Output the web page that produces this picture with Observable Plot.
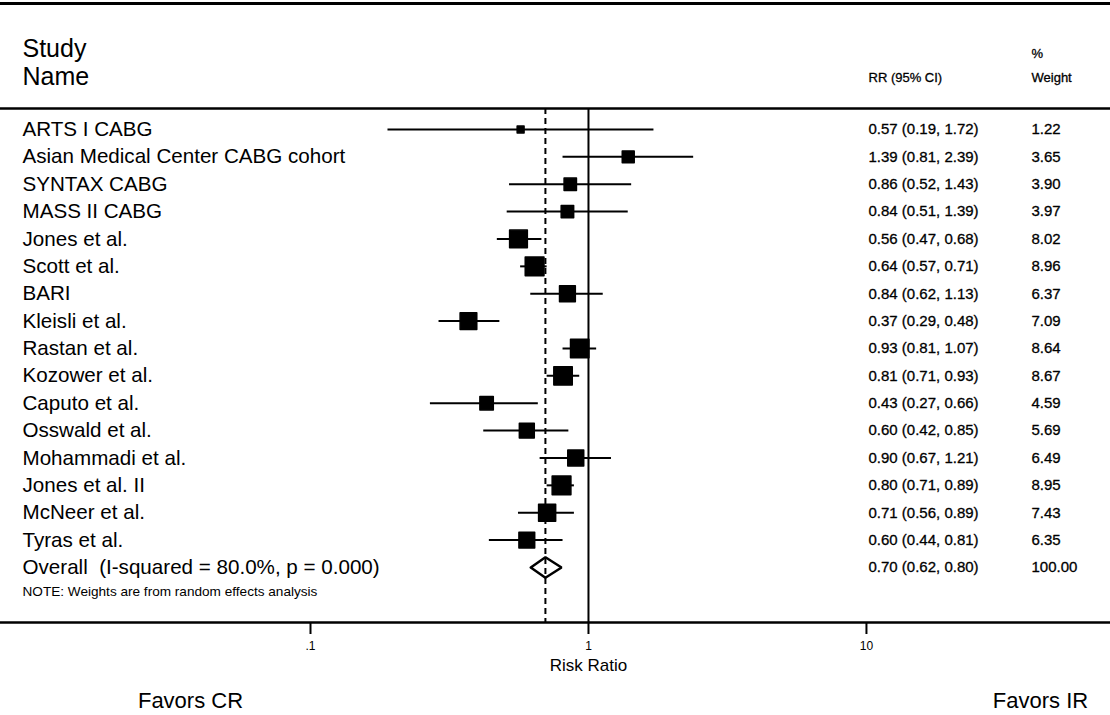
<!DOCTYPE html>
<html><head><meta charset="utf-8">
<script src="https://cdn.jsdelivr.net/npm/d3@7"></script>
<script src="https://cdn.jsdelivr.net/npm/@observablehq/plot@0.6"></script>
<style>
body{margin:0;background:#fff;}
#top{height:0;border-top:3px solid #000;margin-top:2px;width:1110px;}
#chart svg{display:block;font-family:"Liberation Sans",Arial,sans-serif;}
#chart svg text{white-space:pre;}
</style></head><body>
<div id="top"></div>
<div id="chart"></div>
<script>
// ---- data ----
const studies = ["ARTS I CABG", "Asian Medical Center CABG cohort", "SYNTAX CABG", "MASS II CABG",
  "Jones et al.", "Scott et al.", "BARI", "Kleisli et al.", "Rastan et al.", "Kozower et al.",
  "Caputo et al.", "Osswald et al.", "Mohammadi et al.", "Jones et al. II", "McNeer et al.", "Tyras et al."];
const rr     = [0.57, 1.39, 0.86, 0.84, 0.56, 0.64, 0.84, 0.37, 0.93, 0.81, 0.43, 0.60, 0.90, 0.80, 0.71, 0.60];
const ciLow  = [0.19, 0.81, 0.52, 0.51, 0.47, 0.57, 0.62, 0.29, 0.81, 0.71, 0.27, 0.42, 0.67, 0.71, 0.56, 0.44];
const ciHigh = [1.72, 2.39, 1.43, 1.39, 0.68, 0.71, 1.13, 0.48, 1.07, 0.93, 0.66, 0.85, 1.21, 0.89, 0.89, 0.81];
const weight = [1.22, 3.65, 3.90, 3.97, 8.02, 8.96, 6.37, 7.09, 8.64, 8.67, 4.59, 5.69, 6.49, 8.95, 7.43, 6.35];
const overallLabel = "Overall  (I-squared = 80.0%, p = 0.000)";
const overallRR = 0.70, overallLow = 0.62, overallHigh = 0.80, overallWeight = 100.00;
const nullValue = 1;
const xTicks = [0.1, 1, 10];
const xTickLabels = [".1", "1", "10"];
const headerStudy = ["Study", "Name"];
const headerRR = "RR (95% CI)";
const headerWeight = ["%", "Weight"];
const axisLabel = "Risk Ratio";
const favorsLeft = "Favors CR", favorsRight = "Favors IR";
const note = "NOTE: Weights are from random effects analysis";

// ---- derived table ----
const rows = studies.map((name, i) => ({name, i, rr: rr[i], lo: ciLow[i], hi: ciHigh[i], w: weight[i]}));
const overallIndex = studies.length;
const allRows = [...rows, {name: overallLabel, i: overallIndex, rr: overallRR, lo: overallLow, hi: overallHigh, w: overallWeight}];
const fmt = d => d.toFixed(2);
const dh = 0.375; // diamond half-height in row units
const diamond = [
  {x: overallLow, y: overallIndex}, {x: overallRR, y: overallIndex - dh},
  {x: overallHigh, y: overallIndex}, {x: overallRR, y: overallIndex + dh},
  {x: overallLow, y: overallIndex}
];
const yDomain = [-0.767, 18.01];
const small = {fill: "#000", stroke: "#000", strokeWidth: 0.3};

const chart = Plot.plot({
  width: 1110,
  height: 710,
  marginLeft: 0,
  marginRight: 0,
  marginTop: 103,
  marginBottom: 93,
  style: {fontFamily: '"Liberation Sans", Arial, sans-serif', color: "#000", background: "#fff"},
  x: {type: "log", domain: [0.00767, 75.5], axis: null},
  y: {domain: yDomain, reverse: true, axis: null},
  r: {type: "sqrt", domain: [0, 9], range: [0, 10.6]},
  marks: [
    // horizontal frame lines
    Plot.ruleY(yDomain, {stroke: "#000", strokeWidth: 2.5}),
    // null line and overall dashed line
    Plot.ruleX([nullValue], {stroke: "#000", strokeWidth: 2}),
    Plot.ruleX([overallRR], {stroke: "#000", strokeWidth: 2, strokeDasharray: "6,4"}),
    // CIs
    Plot.ruleY(rows, {y: "i", x1: "lo", x2: "hi", stroke: "#000", strokeWidth: 2}),
    // boxes
    Plot.dot(rows, {x: "rr", y: "i", r: "w", symbol: "square", fill: "#000", stroke: "#000", strokeWidth: 1.5, strokeLinejoin: "round"}),
    // overall diamond
    Plot.line(diamond, {x: "x", y: "y", stroke: "#000", strokeWidth: 2.5, strokeLinejoin: "miter"}),
    // axis
    Plot.axisX(xTicks, {anchor: "bottom", tickSize: 12, tickPadding: 7, strokeWidth: 2, fontSize: 12,
      tickFormat: d => xTickLabels[xTicks.indexOf(d)], label: null}),
    Plot.text([nullValue], {x: d => d, frameAnchor: "bottom", dy: 43, text: () => axisLabel, fontSize: 17, lineAnchor: "middle"}),
    // study labels
    Plot.text(allRows, {y: "i", text: "name", frameAnchor: "left", dx: 22, textAnchor: "start", fontSize: 20.6, lineAnchor: "middle"}),
    // RR column
    Plot.text(allRows, {y: "i", text: d => `${fmt(d.rr)} (${fmt(d.lo)}, ${fmt(d.hi)})`, frameAnchor: "left", dx: 868, textAnchor: "start", fontSize: 15, lineAnchor: "middle", ...small}),
    // weight column
    Plot.text(allRows, {y: "i", text: d => fmt(d.w), frameAnchor: "left", dx: 1031, textAnchor: "start", fontSize: 15, lineAnchor: "middle", ...small}),
    // note
    Plot.text([note], {frameAnchor: "bottom-left", dx: 22, dy: -31, textAnchor: "start", fontSize: 13.6, lineAnchor: "middle"}),
    // headers
    Plot.text([headerStudy[0]], {frameAnchor: "top-left", dx: 22, dy: -60, textAnchor: "start", fontSize: 25, lineAnchor: "middle"}),
    Plot.text([headerStudy[1]], {frameAnchor: "top-left", dx: 22, dy: -32, textAnchor: "start", fontSize: 25, lineAnchor: "middle"}),
    Plot.text([headerRR], {frameAnchor: "top-left", dx: 868, dy: -31, textAnchor: "start", fontSize: 13, lineAnchor: "middle", ...small}),
    Plot.text([headerWeight[0]], {frameAnchor: "top-left", dx: 1031, dy: -55, textAnchor: "start", fontSize: 13, lineAnchor: "middle", ...small}),
    Plot.text([headerWeight[1]], {frameAnchor: "top-left", dx: 1031, dy: -31, textAnchor: "start", fontSize: 13, lineAnchor: "middle", ...small}),
    // favors labels
    Plot.text([favorsLeft], {frameAnchor: "bottom-left", dx: 190, dy: 78, textAnchor: "middle", fontSize: 22, lineAnchor: "middle"}),
    Plot.text([favorsRight], {frameAnchor: "bottom-right", dx: -70, dy: 78, textAnchor: "middle", fontSize: 22, lineAnchor: "middle"})
  ]
});
document.getElementById("chart").appendChild(chart);
</script>
</body></html>
